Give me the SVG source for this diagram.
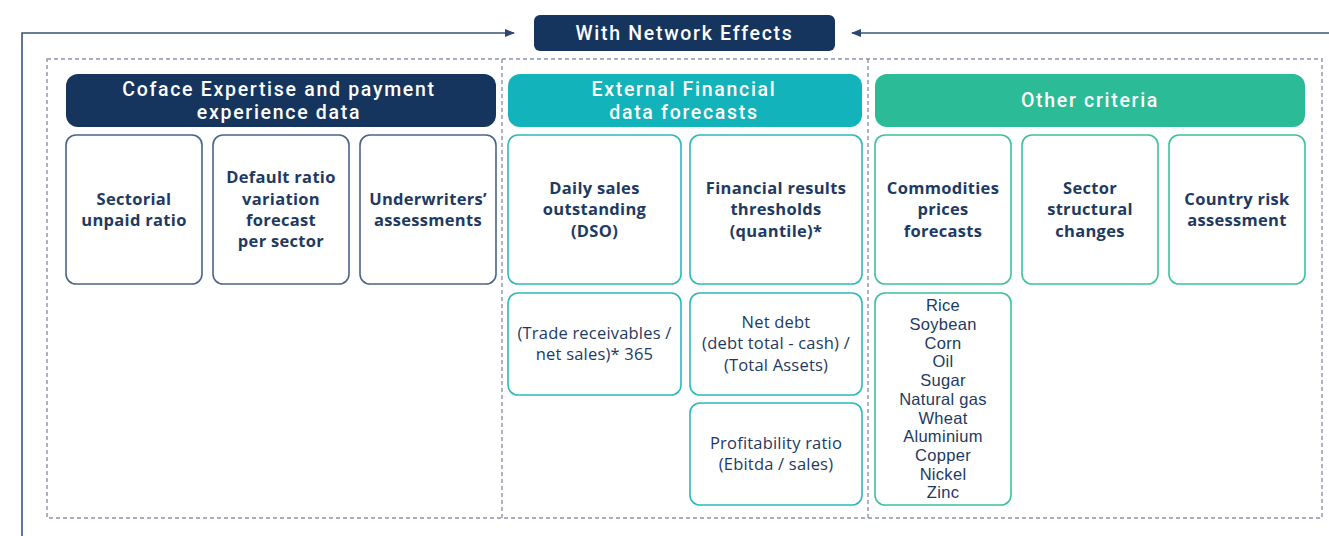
<svg xmlns="http://www.w3.org/2000/svg" width="1329" height="536" viewBox="0 0 1329 536">
<style>
.hd{font-family:Roboto,"Liberation Sans",sans-serif;font-weight:500;fill:#fff;text-anchor:middle;font-size:19.5px;letter-spacing:1.7px}
.b{font-family:"Open Sans","Liberation Sans",sans-serif;font-weight:700;fill:#1E3A62;text-anchor:middle;font-size:16.5px;letter-spacing:0.3px}
.r{font-family:"Open Sans","Liberation Sans",sans-serif;font-weight:400;fill:#1E3A62;text-anchor:middle;font-size:16.5px;letter-spacing:0.2px}
.l{font-family:"Liberation Sans",Arial,sans-serif;font-weight:400;fill:#1E3A62;text-anchor:middle;font-size:16.5px;letter-spacing:0.3px}
.nv{fill:#fff;stroke:#4B6488;stroke-width:1.6}
.tl{fill:#fff;stroke:#2DB8BD;stroke-width:1.6}
.gr{fill:#fff;stroke:#3CC29C;stroke-width:1.6}
.dash{fill:none;stroke:#8C92B2;stroke-width:1.4;stroke-dasharray:4 3}
.ln{fill:none;stroke:#3A5478;stroke-width:1.6}
</style>
<defs>
<marker id="ah" markerWidth="10" markerHeight="8" refX="9" refY="4" orient="auto" markerUnits="userSpaceOnUse">
<path d="M0,0 L10,4 L0,8 Z" fill="#2C4870"/>
</marker>
</defs>
<g id="connectors">
<path class="ln" d="M22,536 L22,33 L514,33" marker-end="url(#ah)"/>
<path class="ln" d="M1329,33 L852,33" marker-end="url(#ah)"/>
</g>
<g id="frame">
<rect class="dash" x="47" y="59" width="1275" height="459"/>
<line class="dash" x1="502" y1="59" x2="502" y2="518"/>
<line class="dash" x1="868" y1="59" x2="868" y2="518"/>
</g>
<g id="title">
<rect x="534" y="15" width="301" height="36" rx="6" fill="#15355F"/>
<text class="hd" x="684.5" y="40" font-size="21" letter-spacing="2.6">With Network Effects</text>
</g>
<g id="hdr-coface">
<rect x="66" y="74" width="430" height="53" rx="12" fill="#15355F"/>
<text class="hd" x="279" y="96">Coface Expertise and payment</text>
<text class="hd" x="279" y="119">experience data</text>
</g>
<g id="hdr-external">
<rect x="508" y="74" width="354" height="53" rx="12" fill="#12B3BA"/>
<text class="hd" x="684" y="96">External Financial</text>
<text class="hd" x="684" y="119">data forecasts</text>
</g>
<g id="hdr-other">
<rect x="875" y="74" width="430" height="53" rx="12" fill="#2BBB96"/>
<text class="hd" x="1090" y="107">Other criteria</text>
</g>
<g id="n-sectorial">
<rect class="nv" x="66" y="135" width="136" height="149" rx="10"/>
<text class="b" x="134" y="205">Sectorial</text>
<text class="b" x="134" y="226">unpaid ratio</text>
</g>
<g id="n-default">
<rect class="nv" x="213" y="135" width="136" height="149" rx="10"/>
<text class="b" x="281" y="183">Default ratio</text>
<text class="b" x="281" y="205">variation</text>
<text class="b" x="281" y="226">forecast</text>
<text class="b" x="281" y="247">per sector</text>
</g>
<g id="n-underwriters">
<rect class="nv" x="360" y="135" width="136" height="149" rx="10"/>
<text class="b" x="428" y="205">Underwriters’</text>
<text class="b" x="428" y="226">assessments</text>
</g>
<g id="n-dso">
<rect class="tl" x="508" y="135" width="173" height="149" rx="10"/>
<text class="b" x="594.5" y="194">Daily sales</text>
<text class="b" x="594.5" y="215">outstanding</text>
<text class="b" x="594.5" y="237">(DSO)</text>
</g>
<g id="n-financial">
<rect class="tl" x="690" y="135" width="172" height="149" rx="10"/>
<text class="b" x="776" y="194">Financial results</text>
<text class="b" x="776" y="215">thresholds</text>
<text class="b" x="776" y="237">(quantile)*</text>
</g>
<g id="n-dso-formula">
<rect class="tl" x="508" y="293" width="173" height="102" rx="10"/>
<text class="r" x="594.5" y="339">(Trade receivables /</text>
<text class="r" x="594.5" y="360">net sales)* 365</text>
</g>
<g id="n-netdebt">
<rect class="tl" x="690" y="293" width="172" height="102" rx="10"/>
<text class="r" x="776" y="328">Net debt</text>
<text class="r" x="776" y="349">(debt total - cash) /</text>
<text class="r" x="776" y="371">(Total Assets)</text>
</g>
<g id="n-profitability">
<rect class="tl" x="690" y="403" width="172" height="102" rx="10"/>
<text class="r" x="776" y="449">Profitability ratio</text>
<text class="r" x="776" y="470">(Ebitda / sales)</text>
</g>
<g id="n-commodities">
<rect class="gr" x="875" y="135" width="136" height="149" rx="10"/>
<text class="b" x="943" y="194">Commodities</text>
<text class="b" x="943" y="215">prices</text>
<text class="b" x="943" y="237">forecasts</text>
</g>
<g id="n-sector">
<rect class="gr" x="1022" y="135" width="136" height="149" rx="10"/>
<text class="b" x="1090" y="194">Sector</text>
<text class="b" x="1090" y="215">structural</text>
<text class="b" x="1090" y="237">changes</text>
</g>
<g id="n-country">
<rect class="gr" x="1169" y="135" width="136" height="149" rx="10"/>
<text class="b" x="1237" y="205">Country risk</text>
<text class="b" x="1237" y="226">assessment</text>
</g>
<g id="n-commodity-list">
<rect class="gr" x="875" y="293" width="136" height="212" rx="10"/>
<text class="l" x="943" y="311">Rice</text>
<text class="l" x="943" y="330">Soybean</text>
<text class="l" x="943" y="348.7">Corn</text>
<text class="l" x="943" y="367.4">Oil</text>
<text class="l" x="943" y="386.1">Sugar</text>
<text class="l" x="943" y="404.8">Natural gas</text>
<text class="l" x="943" y="423.5">Wheat</text>
<text class="l" x="943" y="442.2">Aluminium</text>
<text class="l" x="943" y="460.9">Copper</text>
<text class="l" x="943" y="479.6">Nickel</text>
<text class="l" x="943" y="498.3">Zinc</text>
</g>
</svg>
